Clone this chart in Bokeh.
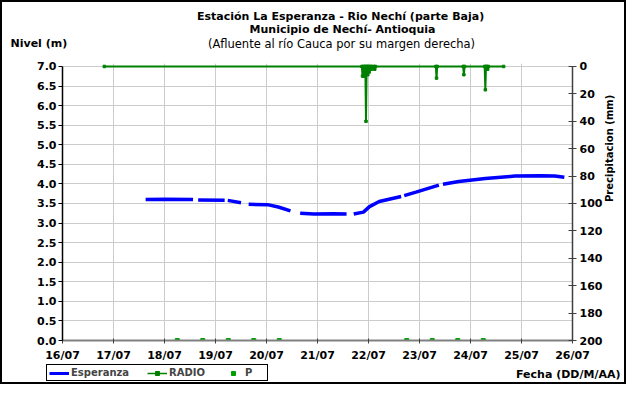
import numpy as np
from math import pi
from bokeh.plotting import figure
from bokeh.layouts import column
from bokeh.models import (Range1d, LinearAxis, FixedTicker, PrintfTickFormatter,
                          Label, Legend, LegendItem)
from bokeh.embed import file_html
from bokeh.resources import INLINE

nan = float("nan")

# ---- data (days of July, fractional) ----
tick_days = [16, 17, 18, 19, 20, 21, 22, 23, 24, 25, 26]
tick_labels = ["16/07", "17/07", "18/07", "19/07", "20/07", "21/07",
               "22/07", "23/07", "24/07", "25/07", "26/07"]
level_ticks = [0.0, 0.5, 1.0, 1.5, 2.0, 2.5, 3.0, 3.5, 4.0, 4.5, 5.0, 5.5, 6.0, 6.5, 7.0]
precip_ticks = [0, 20, 40, 60, 80, 100, 120, 140, 160, 180, 200]

# Esperanza water level (m); nan = gaps in the record
level_day = [17.63, 18.02, 18.56, nan, 18.66, 19.18, nan, 19.24, 19.50, nan,
             19.65, 20.02, 20.23, 20.47, nan, 20.66, 20.93, 21.32, 21.57, nan,
             21.71, 21.90, 22.02, 22.21, 22.64, nan, 22.70, 22.93, 23.38, nan,
             23.46, 23.77, 24.29, 24.87, 25.36, 25.65, 25.84]
level_m = [3.60, 3.61, 3.60, nan, 3.59, 3.58, nan, 3.58, 3.52, nan,
           3.48, 3.47, 3.41, 3.31, nan, 3.25, 3.23, 3.24, 3.23, nan,
           3.23, 3.28, 3.42, 3.55, 3.68, nan, 3.70, 3.79, 3.97, nan,
           3.99, 4.06, 4.14, 4.20, 4.21, 4.20, 4.17]

# RADIO precipitation (mm)
radio_day = [16.82, 21.870, 21.883, 21.896, 21.909, 21.922, 21.938, 21.951, 21.964,
             21.973, 21.986, 22.000, 22.013, 22.026, 22.045, 22.058, 22.071,
             22.109, 22.122, 22.135, 23.321, 23.334, 23.347, 23.857, 23.870,
             23.883, 24.278, 24.291, 24.304, 24.323, 24.336, 24.349, 24.65]
radio_mm = [0, 0, 7, 0, 7, 0, 0, 40, 0,
            0, 6, 0, 4, 0, 0, 2, 0,
            0, 2, 0, 0, 8.5, 0, 0, 6,
            0, 0, 17, 0, 0, 2, 0, 0]

# P series (on the level axis)
p_day = [18.25, 18.75, 19.25, 19.75, 20.25, 22.75, 23.25, 23.75, 24.25]
p_val = [0, 0, 0, 0, 0, 0, 0, 0, 0]

title_lines = ["Estación La Esperanza - Rio Nechí  (parte Baja)",
               "Municipio de Nechí- Antioquia",
               "(Afluente al río Cauca por su margen derecha)"]

FONT = "DejaVu Sans"
GREEN = "#008000"
BLUE = "#0000FF"
W = 622
TOP_H, MAIN_H, BOT_H = 58, 304, 18


def no_align(f):
    try:
        f.frame_align = False
    except Exception:
        pass


def blank_fig(h):
    f = figure(width=W, height=h, x_range=Range1d(0, 1), y_range=Range1d(0, 1),
               output_backend="svg", toolbar_location=None,
               x_axis_location=None, y_axis_location=None, title_location=None,
               min_border=0, min_border_left=0, min_border_right=0,
               min_border_top=0, min_border_bottom=0)
    f.outline_line_color = None
    f.background_fill_color = "white"
    f.border_fill_color = "white"
    f.grid.visible = False
    no_align(f)
    return f


def lab(fig, text, x, y, size="11px", style="bold", align="center"):
    fig.add_layout(Label(x=x, y=y, x_units="screen", y_units="screen", text=text,
                         text_font=FONT, text_font_size=size, text_font_style=style,
                         text_align=align, text_baseline="middle", text_color="black"))


# ---------------- top strip: titles ----------------
top = blank_fig(TOP_H)
lab(top, title_lines[0], 340, 44)
lab(top, title_lines[1], 340, 31)
lab(top, title_lines[2], 339, 17, size="11.5px", style="normal")
lab(top, "Nivel (m)", 8, 17, align="left")

# ---------------- main chart ----------------
p = figure(width=W, height=MAIN_H, x_range=Range1d(16, 26),
           y_range=Range1d(0, 7.0761),
           output_backend="svg", toolbar_location=None, title_location=None,
           min_border_left=60, min_border_right=52,
           min_border_top=3, min_border_bottom=22)
p.extra_y_ranges = {"precip": Range1d(200, -2.174)}
p.outline_line_color = None
p.background_fill_color = "white"
p.border_fill_color = "white"
no_align(p)

p.xgrid.ticker = FixedTicker(ticks=tick_days)
p.ygrid.ticker = FixedTicker(ticks=level_ticks)
for g in (p.xgrid[0], p.ygrid[0]):
    g.grid_line_color = "#cccccc"
    g.grid_line_width = 1

xax = p.xaxis[0]
xax.ticker = FixedTicker(ticks=tick_days)
xax.major_label_overrides = {d: l for d, l in zip(tick_days, tick_labels)}
xax.axis_line_color = "#808080"
xax.axis_line_width = 2
xax.major_tick_line_color = "#404040"
xax.major_tick_in = 2
xax.major_tick_out = 3
xax.minor_tick_line_color = None
xax.major_label_standoff = 5

yax = p.yaxis[0]
yax.ticker = FixedTicker(ticks=level_ticks)
yax.formatter = PrintfTickFormatter(format="%.1f")
yax.bounds = (0, 7)
yax.axis_line_color = "black"
yax.axis_line_width = 1.5
yax.major_tick_line_color = "black"
yax.major_tick_in = 0
yax.major_tick_out = 4
yax.minor_tick_line_color = None
yax.major_label_standoff = 2

rax = LinearAxis(y_range_name="precip", ticker=FixedTicker(ticks=precip_ticks))
rax.bounds = (0, 200)
rax.axis_line_color = "#404040"
rax.axis_line_width = 1.5
rax.major_tick_line_color = "#404040"
rax.major_tick_in = 4
rax.major_tick_out = 4
rax.minor_tick_line_color = None
rax.major_label_standoff = 3
p.add_layout(rax, "right")

for ax in (xax, yax, rax):
    ax.major_label_text_font = FONT
    ax.major_label_text_font_style = "bold"
    ax.major_label_text_font_size = "11px"
    ax.major_label_text_color = "black"

# title of the precipitation axis, in the upper part of the right side
rlab = LinearAxis(y_range_name="precip", ticker=FixedTicker(ticks=[]))
rlab.bounds = (0, 66)
rlab.axis_line_color = None
rlab.major_tick_line_color = None
rlab.minor_tick_line_color = None
rlab.major_label_text_font_size = "1px"
rlab.axis_label = "Precipitacion (mm)"
rlab.axis_label_text_font = FONT
rlab.axis_label_text_font_style = "bold"
rlab.axis_label_text_font_size = "10px"
rlab.axis_label_text_color = "black"
rlab.axis_label_standoff = 4
try:
    rlab.axis_label_orientation = pi / 2
except Exception:
    rlab.axis_label_orientation = "vertical"
p.add_layout(rlab, "right")

p.line(np.array(level_day), np.array(level_m), line_color=BLUE, line_width=3.5)
p.line(radio_day, radio_mm, y_range_name="precip", line_color=GREEN, line_width=2)
p.scatter(radio_day, radio_mm, y_range_name="precip", marker="square", size=2.5, color=GREEN)
p.scatter(p_day, p_val, marker="square", size=4, color="#00A000")

# ---------------- bottom strip: legend + x title ----------------
# (legend swatches reuse the series; they fall outside this strip's ranges)
bot = blank_fig(BOT_H)
lg_esp = bot.line(np.array(level_day), np.array(level_m), line_color=BLUE, line_width=3)
lg_rl = bot.line(radio_day, radio_mm, line_color=GREEN, line_width=1.5)
lg_rs = bot.scatter(radio_day, radio_mm, marker="square", size=3, color=GREEN)
lg_p = bot.scatter(p_day, p_val, marker="square", size=3, color="#00A000")
legend = Legend(items=[LegendItem(label="Esperanza", renderers=[lg_esp]),
                       LegendItem(label="RADIO", renderers=[lg_rl, lg_rs]),
                       LegendItem(label="P", renderers=[lg_p])],
                orientation="horizontal", location=(44, 1),
                border_line_color="black", border_line_width=1, border_line_alpha=1,
                background_fill_color="white", background_fill_alpha=1,
                label_text_font=FONT, label_text_font_style="bold",
                label_text_font_size="10px", glyph_width=20, glyph_height=10,
                label_height=10, padding=2, spacing=18, label_standoff=2, margin=0)
bot.add_layout(legend, "center")
lab(bot, "Fecha (DD/M/AA)", 618, 8, align="right")

layout = column(top, p, bot, spacing=0)
layout.styles = {"border": "2px solid black"}

open("out.html", "w").write(file_html(layout, INLINE))
